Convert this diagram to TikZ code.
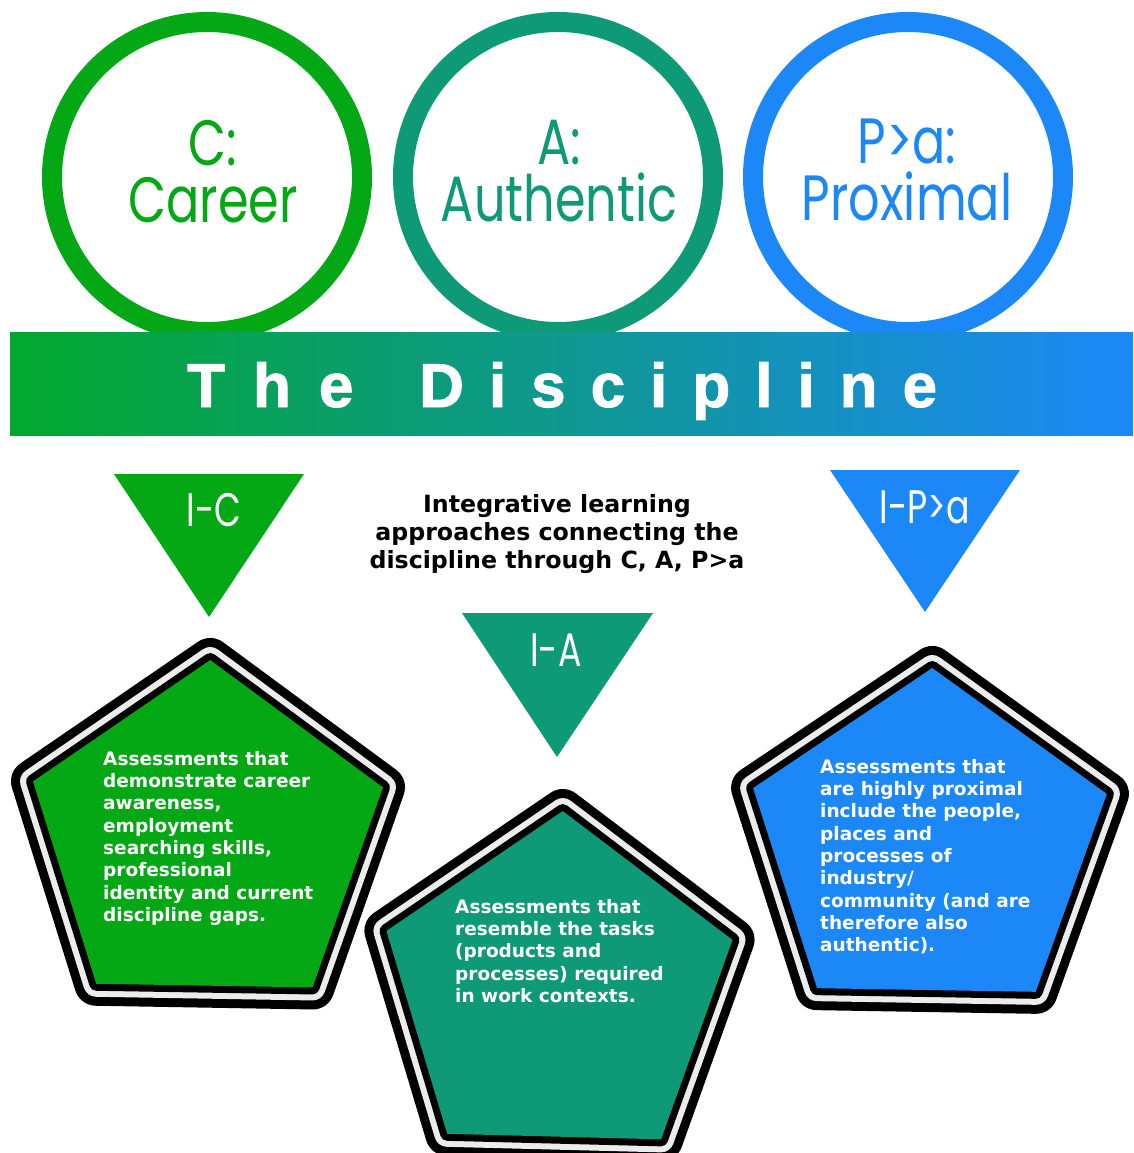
\documentclass[tikz,border=0pt]{standalone}
\usepackage{fontspec}
\newfontfamily\geo{Poppins}
\newfontfamily\djb{DejaVu Sans}
\newfontfamily\heavy[FakeBold=1.5]{Liberation Sans Bold}
\definecolor{cgreen}{RGB}{4,168,20}
\definecolor{bgreen}{RGB}{2,168,45}
\definecolor{cteal}{RGB}{14,154,118}
\definecolor{cblue}{RGB}{28,136,248}
\definecolor{band}{RGB}{236,236,236}
\newcommand\lsp{\kern25pt}
\newcommand\geox[1]{\scalebox{0.77}[1]{#1}}
\newcommand\mypent[6]{%
  \begin{scope}[shift={(#1,#2)}]
    \pgfmathsetmacro\aA{-90+#5}\pgfmathsetmacro\aB{-18+#5}\pgfmathsetmacro\aC{54+#5}%
    \pgfmathsetmacro\aD{126+#5}\pgfmathsetmacro\aE{198+#5}%
    \foreach \lw/\cc in {44/black,26/band,14/black}{%
      \draw[line width=\lw pt, draw=\cc, line join=round]
        (\aA:#3 and #4) -- (\aB:#3 and #4) -- (\aC:#3 and #4) -- (\aD:#3 and #4) -- (\aE:#3 and #4) -- cycle;}
    \fill[#6] (\aA:#3 and #4) -- (\aB:#3 and #4) -- (\aC:#3 and #4) -- (\aD:#3 and #4) -- (\aE:#3 and #4) -- cycle;
  \end{scope}}
\begin{document}
\begin{tikzpicture}[x=1pt,y=-1pt,
  ring/.style={circle, draw=#1, line width=20pt, minimum size=310pt, inner sep=0pt},
  big/.style={font=\geo\fontsize{64}{57}\selectfont, text=#1, anchor=north, align=center, inner sep=0pt},
  trilabel/.style={font=\geo\fontsize{47}{47}\selectfont, text=white, inner sep=0pt},
  body/.style={font=\djb\bfseries\fontsize{18.5}{22.3}\selectfont, text=white, align=left, anchor=north west, inner sep=0pt},
  disc/.style={font=\heavy\fontsize{62}{62}\selectfont, text=white, anchor=base west, inner sep=0pt}]
\useasboundingbox (0,0) rectangle (1133,1153);
\fill[white] (0,0) rectangle (1133,1153);
% circles
\node (rc) [ring=cgreen] at (207,177) {};
\node (ra) [ring=cteal] at (558,177) {};
\node (rp) [ring=cblue] at (908,177) {};
\node (tcc) [big=cgreen] at (213,120) {\geox{C:}\\\geox{Career}};
\node (tca) [big=cteal] at (559,120) {\geox{A:}\\\geox{Authentic}};
\node (tcp) [big=cblue] at (907,119) {\geox{P>a:}\\\geox{Proximal}};
% banner
\node (banner) [minimum width=1123pt, minimum height=103pt, inner sep=0pt,
  left color=bgreen, middle color=cteal, right color=cblue] at (571.5,383.5) {};
\node (the) [disc] at (187,407) {T\kern28pt h\kern28pt e};
\node (dis) [disc] at (419,407) {D\lsp i\lsp s\lsp c\lsp i\lsp p\lsp l\lsp i\lsp n\lsp e};
% triangles
\fill[cgreen] (114,474) -- (304,474) -- (209,617) -- cycle;
\fill[cteal] (462,613) -- (653,613) -- (557,757) -- cycle;
\fill[cblue] (830,470) -- (1020,470) -- (925,612) -- cycle;
\node (ic) [trilabel] at (214,510) {\scalebox{0.74}[1]{I-C}};
\node (ia) [trilabel] at (556,650) {\scalebox{0.74}[1]{I-A}};
\node (ip) [trilabel] at (925,507) {\scalebox{0.74}[1]{I-P>a}};
\node (desc) [font=\djb\bfseries\fontsize{23.7}{28}\selectfont, align=center, anchor=north, inner sep=0pt]
  at (557,494) {Integrative learning\\approaches connecting the\\discipline through C, A, P>a};
% pentagons
\mypent{207}{840}{184}{180}{1}{cgreen}
\mypent{558}{991}{182}{180}{1.5}{cteal}
\mypent{929}{846}{186}{178}{1}{cblue}
\node (tc) [body] at (103,751) {Assessments that\\demonstrate career\\awareness,\\employment\\searching skills,\\professional\\identity and current\\discipline gaps.};
\node (ta) [body] at (455,899) {Assessments that\\resemble the tasks\\(products and\\processes) required\\in work contexts.};
\node (tp) [body] at (820,759) {Assessments that\\are highly proximal\\include the people,\\places and\\processes of\\industry/\\community (and are\\therefore also\\authentic).};
\end{tikzpicture}
\end{document}
